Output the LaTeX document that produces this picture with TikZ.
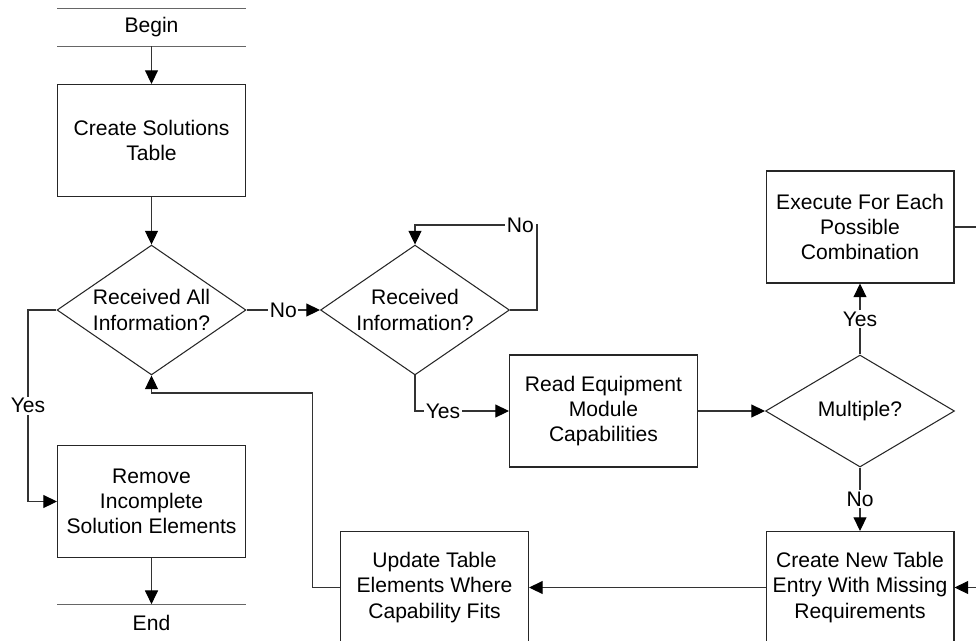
\documentclass[tikz,border=0pt]{standalone}
\usepackage{fontspec}
\setmainfont{Liberation Sans}
\usetikzlibrary{arrows.meta,shapes.geometric}

\begin{document}
\begin{tikzpicture}[
    % one unit = one pixel of the drawing, y grows downwards
    x=0.02cm, y=-0.02cm,
    every node/.style={font=\fontsize{12}{14.4}\selectfont},
    process/.style={rectangle, draw=black!85, line width=0.6pt, minimum width=3.76cm, minimum height=2.24cm, align=center, inner sep=0pt},
    decision/.style={diamond, draw=black!85, line width=0.6pt, minimum width=3.78cm, minimum height=2.24cm, align=center, inner sep=-4pt},
    terminal/.style={rectangle, minimum width=3.76cm, minimum height=0.74cm, inner sep=0pt},
    termline/.style={draw=black!60, line width=0.6pt},
    link/.style={draw=black!80, line width=0.6pt},
    arrow/.style={link, -{Triangle[length=7.8pt, width=7.4pt, color=black]}},
    tag/.style={fill=white, inner sep=1pt}
]

% page size of the reference, cut at its edges
\useasboundingbox (0,0) rectangle (976,640);
\clip (0,0) rectangle (976,640);

% Start and end
\node[terminal] (begin) at (151.5, 27.5) {Begin};
\draw[termline] (begin.north west) -- (begin.north east);
\draw[termline] (begin.south west) -- (begin.south east);

\node[terminal] (end) at (151.5, 623) {End};
\draw[termline] (end.north west) -- (end.north east);
\draw[termline] (end.south west) -- (end.south east);

% Process steps
\node[process] (create) at (151.5, 140.5) {Create Solutions\\Table};
\node[process] (remove) at (151.5, 501.5) {Remove\\Incomplete\\Solution Elements};
\node[process] (read) at (603.5, 411) {Read Equipment\\Module\\Capabilities};
\node[process] (execute) at (860, 227) {Execute For Each\\Possible\\Combination};
\node[process] (newentry) at (860, 587.5) {Create New Table\\Entry With Missing\\Requirements};
\node[process] (update) at (434.5, 587.5) {Update Table\\Elements Where\\Capability Fits};

% Decisions
\node[decision] (recvall) at (151.5, 310) {Received All\\Information?};
\node[decision] (recvinfo) at (415, 310) {Received\\Information?};
\node[decision] (multi) at (860, 411) {Multiple?};

% Turning points of the loops
\coordinate (waitloop) at (537, 225);
\coordinate (backloop) at (312.5, 393);

% Main flow
\draw[arrow] (begin) -- (create);
\draw[arrow] (create) -- (recvall);
\draw[arrow] (recvall.east) -- node[tag] {No} (recvinfo.west);
\draw[arrow] (recvinfo.east) -| (waitloop) node[tag, anchor=east, xshift=-0.5pt] {No} -| (recvinfo.north);
\draw[arrow] (recvinfo.south) |- node[tag, pos=0.545, anchor=west] {Yes} (read.west);
\draw[arrow] (read) -- (multi);
\draw[arrow] (multi) -- node[tag] {Yes} (execute);
\draw[arrow] (multi) -- node[tag] {No} (newentry);
\draw[arrow] (execute.east) -- ++(30,0) |- (newentry.east);
\draw[arrow] (newentry) -- (update);
\draw[arrow] (update.west) -| (backloop) -| (recvall.south);
\draw[arrow] (recvall.west) -- ++(-28.5,0) |- node[tag, pos=0.25] {Yes} (remove.west);
\draw[arrow] (remove) -- (end);

\end{tikzpicture}
\end{document}
